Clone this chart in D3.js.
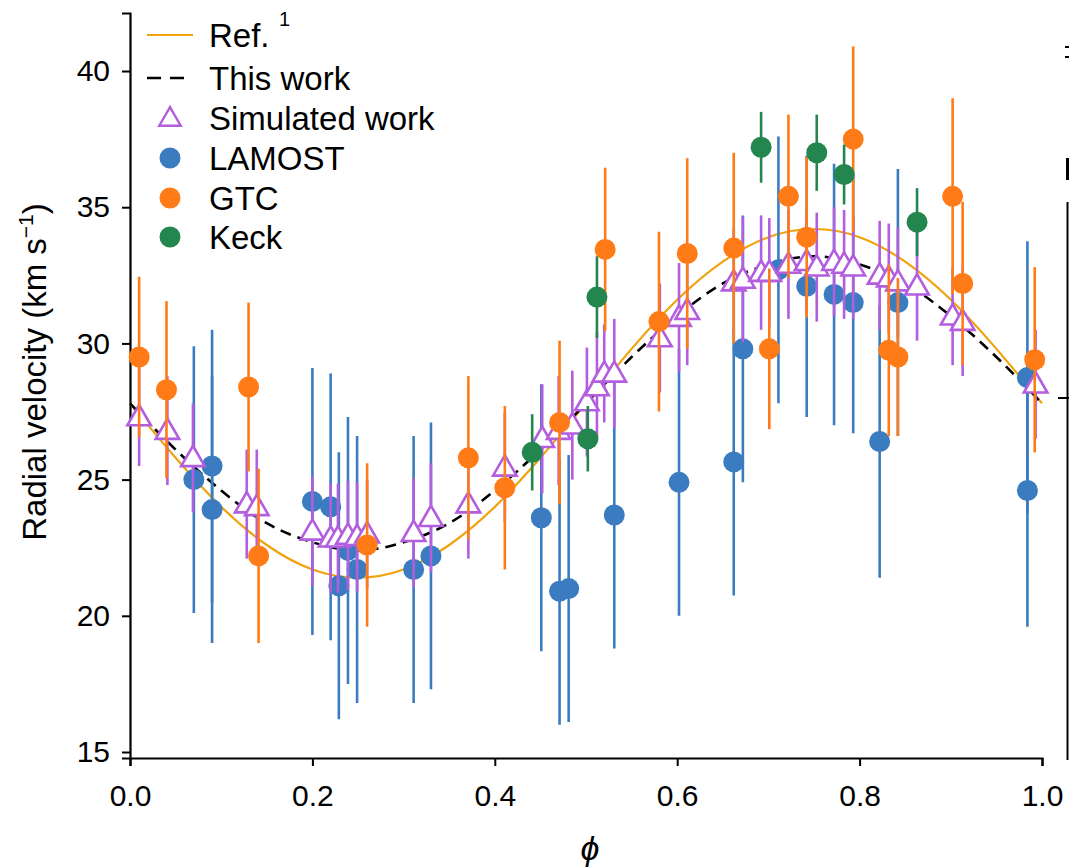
<!DOCTYPE html>
<html>
<head>
<meta charset="utf-8">
<script src="https://cdn.jsdelivr.net/npm/d3@7"></script>
<style>
  html, body { margin: 0; padding: 0; background: #ffffff; }
  svg { display: block; }
  text { font-family: "Liberation Sans", Arial, Helvetica, sans-serif; fill: #000; }
</style>
</head>
<body>
<svg id="chart" width="1069" height="867"></svg>
<script>
// ---- Radial-velocity measurements folded on orbital phase ----
const phaseLAMOST = [0.070, 0.090, 0.090, 0.200, 0.220, 0.229, 0.239, 0.249, 0.311, 0.330, 0.451, 0.471, 0.481, 0.531, 0.602, 0.662, 0.672, 0.711, 0.742, 0.772, 0.793, 0.822, 0.842, 0.984, 0.984];
const rvLAMOST    = [25.0, 25.5, 23.9, 24.2, 24.0, 21.1, 22.4, 21.7, 21.7, 22.2, 23.6, 20.9, 21.0, 23.7, 24.9, 25.65, 29.8, 32.7, 32.1, 31.8, 31.5, 26.4, 31.5, 28.75, 24.6];
const errLAMOST   = [4.9, 5.0, 4.9, 4.9, 4.9, 4.9, 4.9, 4.9, 4.9, 4.9, 4.9, 4.9, 4.9, 4.9, 4.9, 4.9, 4.9, 4.9, 4.8, 4.8, 4.8, 5.0, 4.9, 5.0, 5.0];

const phaseGTC = [0.010, 0.040, 0.130, 0.141, 0.260, 0.371, 0.411, 0.471, 0.521, 0.580, 0.611, 0.662, 0.701, 0.722, 0.742, 0.793, 0.832, 0.842, 0.902, 0.913, 0.992];
const rvGTC    = [29.5, 28.3, 28.4, 22.2, 22.6, 25.8, 24.7, 27.1, 33.45, 30.8, 33.3, 33.5, 29.8, 35.4, 33.9, 37.5, 29.75, 29.5, 35.4, 32.2, 29.4];
const errGTC   = [2.95, 3.25, 3.1, 3.2, 3.0, 3.0, 3.0, 3.0, 3.0, 3.3, 3.5, 3.5, 2.95, 3.0, 2.95, 3.4, 3.15, 2.9, 3.6, 3.0, 3.4];

const phaseKeck = [0.441, 0.502, 0.512, 0.692, 0.753, 0.783, 0.863];
const rvKeck    = [26.0, 26.5, 31.7, 37.2, 37.0, 36.2, 34.45];
const errKeck   = [1.4, 1.2, 1.5, 1.3, 1.4, 1.1, 1.25];

const phaseSim = [0.010, 0.041, 0.069, 0.128, 0.139, 0.200, 0.220, 0.228, 0.239, 0.249, 0.260, 0.311, 0.330, 0.371, 0.411, 0.452, 0.470, 0.485, 0.501, 0.512, 0.520, 0.531, 0.581, 0.602, 0.611, 0.662, 0.672, 0.692, 0.701, 0.722, 0.742, 0.753, 0.772, 0.783, 0.793, 0.822, 0.832, 0.842, 0.863, 0.902, 0.913, 0.993];
const rvSim    = [27.3, 26.8, 25.8, 24.1, 24.0, 23.1, 22.85, 22.85, 22.95, 22.9, 23.0, 23.05, 23.6, 24.1, 25.45, 26.5, 26.8, 27.0, 27.85, 28.4, 28.9, 28.9, 30.2, 30.95, 31.2, 32.25, 32.35, 32.6, 32.6, 32.9, 33.0, 32.8, 33.0, 32.9, 32.8, 32.5, 32.4, 32.25, 32.1, 31.0, 30.8, 28.5];
const errSim   = [1.8, 2.0, 2.0, 2.0, 2.1, 2.0, 2.0, 2.0, 2.0, 2.0, 2.0, 2.0, 2.0, 2.0, 2.0, 2.0, 2.0, 2.0, 2.0, 2.0, 1.8, 2.0, 2.0, 2.0, 2.0, 2.0, 2.3, 2.1, 2.0, 2.0, 1.9, 2.0, 2.0, 2.0, 1.9, 2.0, 2.0, 2.0, 2.0, 1.8, 2.0, 2.0];

// ---- Model radial-velocity curves, sampled every 0.05 in phase ----
const curvePhase = [0, 0.05, 0.10, 0.15, 0.20, 0.25, 0.30, 0.35, 0.40, 0.45, 0.50, 0.55, 0.60, 0.65, 0.70, 0.75, 0.80, 0.85, 0.90, 0.95, 1.00];
const rvRef1     = [27.8, 25.8, 24.0, 22.6, 21.7, 21.4, 21.7, 22.6, 24.0, 25.8, 27.8, 29.8, 31.6, 33.0, 33.9, 34.2, 33.9, 33.0, 31.6, 29.8, 27.8];
const rvThisWork = [27.8, 26.1, 24.6, 23.4, 22.7, 22.4, 22.7, 23.4, 24.6, 26.1, 27.8, 29.5, 31.0, 32.2, 32.9, 33.2, 32.9, 32.2, 31.0, 29.5, 27.8];

// ---- Axis ticks ----
const xTicks = [0.0, 0.2, 0.4, 0.6, 0.8, 1.0];
const yTicks = [15, 20, 25, 30, 35, 40];

const colors = {
  lamost: "#3b7cc0",
  gtc: "#ff7b17",
  keck: "#24864f",
  sim: "#b35ddf",
  ref: "#f0a30c",
  fit: "#000000"
};

const svg = d3.select("#chart");

const x = d3.scaleLinear().domain([0, 1]).range([130, 1042]);
const y = d3.scaleLinear().domain([14.78, 42.13]).range([758, 13]);

// ---- Axes ----
const xAxis = d3.axisBottom(x).tickValues(xTicks).tickFormat(d3.format(".1f")).tickSizeOuter(0).tickSize(8).tickPadding(19);
const yAxis = d3.axisLeft(y).tickValues(yTicks).tickFormat(d3.format("d")).tickSizeOuter(0).tickSize(8).tickPadding(12);

const gx = svg.append("g").attr("transform", "translate(0,758)").call(xAxis);
const gy = svg.append("g").attr("transform", "translate(130,0)").call(yAxis);
[gx, gy].forEach(g => {
  g.select(".domain").attr("stroke", "#000").attr("stroke-width", 2.2);
  g.selectAll(".tick line").attr("stroke", "#000").attr("stroke-width", 2);
  g.selectAll(".tick text").attr("font-size", 30).attr("font-family", "Liberation Sans, Arial, sans-serif").attr("fill", "#000");
});

// axis titles
svg.append("text")
  .attr("x", 590).attr("y", 860)
  .attr("text-anchor", "middle")
  .attr("font-size", 34).attr("font-style", "italic")
  .attr("font-family", "DejaVu Sans, sans-serif")
  .text("ϕ");

const yl = svg.append("text")
  .attr("transform", "translate(46,372) rotate(-90)")
  .attr("text-anchor", "middle")
  .attr("font-size", 33);
yl.append("tspan").text("Radial velocity (km s");
yl.append("tspan").attr("font-size", 21).attr("dy", -13).text("−1");
yl.append("tspan").attr("dy", 13).text(")");

// ---- Model curves ----
const line = d3.line().x(d => x(d[0])).y(d => y(d[1])).curve(d3.curveNatural);

svg.append("path")
  .attr("d", line(d3.zip(curvePhase, rvRef1)))
  .attr("fill", "none").attr("stroke", colors.ref).attr("stroke-width", 2.2);

svg.append("path")
  .attr("d", line(d3.zip(curvePhase, rvThisWork)))
  .attr("fill", "none").attr("stroke", colors.fit).attr("stroke-width", 2.6)
  .attr("stroke-dasharray", "11,7");

// ---- Error-bar series ----
function errorSeries(phase, rv, err, color, shape) {
  const g = svg.append("g");
  const data = d3.zip(phase, rv, err);
  g.selectAll("line.err").data(data).join("line")
    .attr("class", "err")
    .attr("x1", d => x(d[0])).attr("x2", d => x(d[0]))
    .attr("y1", d => y(d[1] - d[2])).attr("y2", d => y(d[1] + d[2]))
    .attr("stroke", color).attr("stroke-width", 2.6);
  if (shape === "circle") {
    g.selectAll("circle").data(data).join("circle")
      .attr("cx", d => x(d[0])).attr("cy", d => y(d[1])).attr("r", 10.5)
      .attr("fill", color);
  } else {
    const tri = d3.symbol().type(d3.symbolTriangle).size(240);
    g.selectAll("path.tri").data(data).join("path")
      .attr("class", "tri")
      .attr("transform", d => `translate(${x(d[0])},${y(d[1]) + 1.5})`)
      .attr("d", tri)
      .attr("fill", "#fff").attr("stroke", color).attr("stroke-width", 2.6);
  }
}

errorSeries(phaseLAMOST, rvLAMOST, errLAMOST, colors.lamost, "circle");
errorSeries(phaseSim, rvSim, errSim, colors.sim, "triangle");
errorSeries(phaseGTC, rvGTC, errGTC, colors.gtc, "circle");
errorSeries(phaseKeck, rvKeck, errKeck, colors.keck, "circle");

// ---- Legend ----
const legend = svg.append("g").attr("transform", "translate(147,0)");
const rowY = [35, 78, 118, 158, 198, 237];
const labels = ["Ref.", "This work", "Simulated work", "LAMOST", "GTC", "Keck"];

legend.append("line").attr("x1", 0).attr("x2", 46).attr("y1", rowY[0]).attr("y2", rowY[0])
  .attr("stroke", colors.ref).attr("stroke-width", 2.2);
legend.append("line").attr("x1", 0).attr("x2", 46).attr("y1", rowY[1]).attr("y2", rowY[1])
  .attr("stroke", colors.fit).attr("stroke-width", 2.6).attr("stroke-dasharray", "14,9");
legend.append("path")
  .attr("transform", `translate(23,${rowY[2] + 1.5})`)
  .attr("d", d3.symbol().type(d3.symbolTriangle).size(200)())
  .attr("fill", "#fff").attr("stroke", colors.sim).attr("stroke-width", 2.4);
[[colors.lamost, rowY[3]], [colors.gtc, rowY[4]], [colors.keck, rowY[5]]].forEach(([c, yy]) => {
  legend.append("circle").attr("cx", 23).attr("cy", yy).attr("r", 10.5).attr("fill", c);
});

legend.selectAll("text.lab").data(labels).join("text")
  .attr("class", "lab")
  .attr("x", 62).attr("y", (d, i) => rowY[i])
  .attr("dy", "0.36em")
  .attr("font-size", 33)
  .text(d => d);
legend.append("text").attr("x", 132).attr("y", rowY[0] - 9).attr("font-size", 20).text("1");

// ---- Edge of the neighbouring panel ----
const edge = svg.append("g").attr("stroke", "#000");
edge.append("line").attr("x1", 1067.5).attr("x2", 1067.5).attr("y1", 202).attr("y2", 760).attr("stroke-width", 2);
edge.append("line").attr("x1", 1067.5).attr("x2", 1067.5).attr("y1", 158).attr("y2", 180).attr("stroke-width", 3);
edge.append("line").attr("x1", 1065).attr("x2", 1069).attr("y1", 47).attr("y2", 47).attr("stroke-width", 2);
edge.append("line").attr("x1", 1065).attr("x2", 1069).attr("y1", 57).attr("y2", 57).attr("stroke-width", 2);
edge.append("line").attr("x1", 1058).attr("x2", 1069).attr("y1", 398).attr("y2", 398).attr("stroke-width", 2);
</script>
</body>
</html>
